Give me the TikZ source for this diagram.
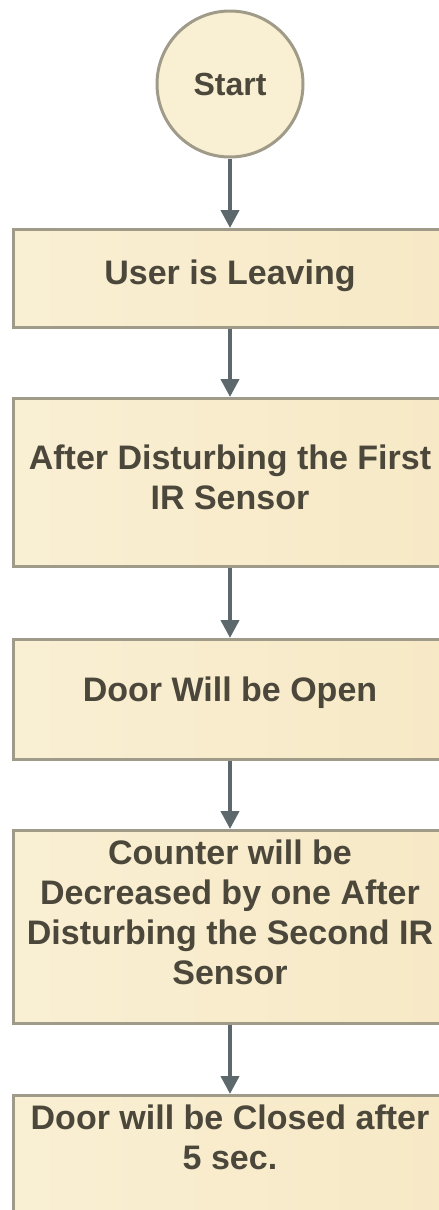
\documentclass[tikz,border=0pt]{standalone}
\usepackage{fontspec}
\setmainfont{Liberation Sans}
\usetikzlibrary{arrows.meta,positioning}

\definecolor{boxfill}{HTML}{F9EFD3}
\definecolor{boxfillR}{HTML}{F7E9C6}
\definecolor{boxline}{HTML}{A09B88}
\definecolor{arrowgray}{HTML}{5D686D}
\definecolor{inkbrown}{HTML}{4B473A}

\begin{document}
\begin{tikzpicture}[
  x=1pt, y=-1pt,
  >={Triangle[length=18pt,width=18pt]},
  font=\fontsize{34}{40}\selectfont\bfseries,
  term/.style={circle, draw=boxline, line width=3pt, fill=boxfill, text=inkbrown, minimum size=146pt, inner sep=0pt, font=\fontsize{32}{38}\selectfont\bfseries},
  stepbox/.style={anchor=north, draw=boxline, line width=3pt, left color=boxfill, right color=boxfillR, text=inkbrown, align=center, minimum width=434pt, inner xsep=4pt, inner ysep=0pt},
  flow/.style={->, line width=4pt, arrowgray},
]
  \useasboundingbox (0,0) rectangle (439,1210);
  \clip (0,0) rectangle (439,1210);
  \node[term] (start) at (230,84) {Start};
  \node[stepbox, text height=55pt, text depth=43pt] (leave) at (230,228) {User is Leaving};
  \node[stepbox, text height=111pt, text depth=57pt] (first) at (230,397) {After Disturbing the First\\IR Sensor};
  \node[stepbox, text height=62pt, text depth=58pt] (open) at (230,638) {Door Will be Open};
  \node[stepbox, text height=154pt, text depth=39pt] (count) at (230,829) {Counter will be\\Decreased by one After\\Disturbing the Second IR\\Sensor};
  \node[stepbox, text height=74pt, text depth=100pt] (close) at (230,1094) {Door will be Closed after\\5 sec.};
  \draw[flow] (start.south) -- (leave.north);
  \draw[flow] (leave.south) -- (first.north);
  \draw[flow] (first.south) -- (open.north);
  \draw[flow] (open.south) -- (count.north);
  \draw[flow] (count.south) -- (close.north);
\end{tikzpicture}
\end{document}
